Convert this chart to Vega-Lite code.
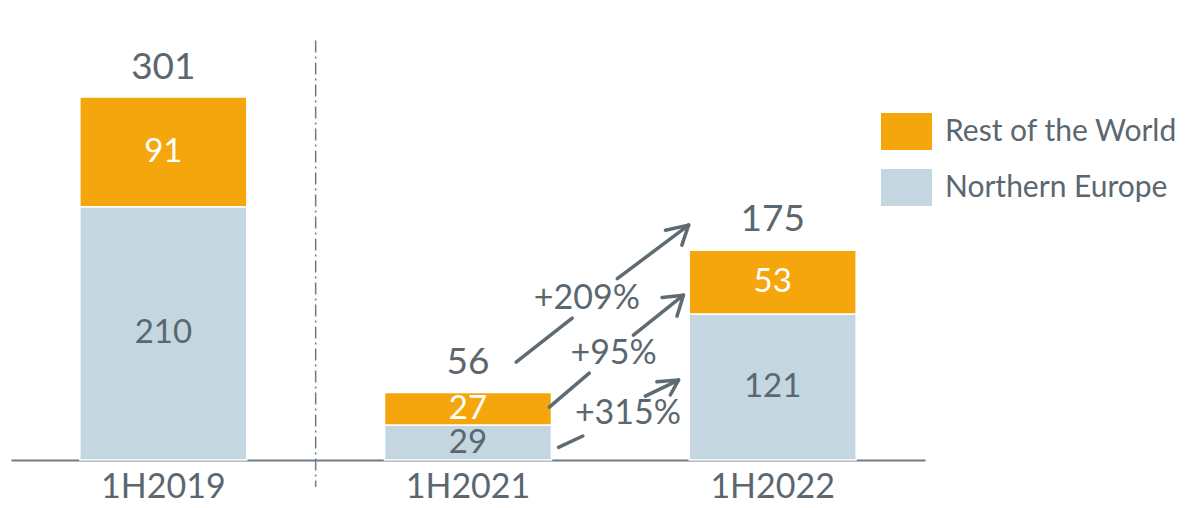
{
  "$schema": "https://vega.github.io/schema/vega-lite/v6.json",
  "width": 914,
  "height": 422,
  "autosize": {"type": "none"},
  "padding": {"left": 11, "top": 38, "right": 261, "bottom": 48},
  "background": "white",
  "config": {
    "view": {"stroke": null},
    "font": "Lato",
    "text": {"font": "Lato"}
  },
  "datasets": {
    "bars": [
      {"period": "1H2019", "region": "Northern Europe", "value": 210},
      {"period": "1H2019", "region": "Rest of the World", "value": 91},
      {"period": "1H2021", "region": "Northern Europe", "value": 29},
      {"period": "1H2021", "region": "Rest of the World", "value": 27},
      {"period": "1H2022", "region": "Northern Europe", "value": 121},
      {"period": "1H2022", "region": "Rest of the World", "value": 53}
    ],
    "totals": [
      {"period": "1H2019", "total": 301},
      {"period": "1H2021", "total": 56},
      {"period": "1H2022", "total": 175}
    ],
    "arrows": [
      {"arrow": "a1", "x": 1.158, "y": 81.2, "x2": 1.342, "y2": 117.7},
      {"arrow": "a1", "x": 1.490, "y": 150.4, "x2": 1.724, "y2": 194.8},
      {"arrow": "a1", "x": 1.724, "y": 194.8, "x2": 1.648, "y2": 190.6},
      {"arrow": "a1", "x": 1.724, "y": 194.8, "x2": 1.702, "y2": 178.2},
      {"arrow": "a2", "x": 1.267, "y": 43.9, "x2": 1.398, "y2": 72.1},
      {"arrow": "a2", "x": 1.543, "y": 103.6, "x2": 1.707, "y2": 136.7},
      {"arrow": "a2", "x": 1.707, "y": 136.7, "x2": 1.637, "y2": 134.8},
      {"arrow": "a2", "x": 1.707, "y": 136.7, "x2": 1.686, "y2": 119.3},
      {"arrow": "a3", "x": 1.297, "y": 10.5, "x2": 1.377, "y2": 19.9},
      {"arrow": "a3", "x": 1.582, "y": 53.0, "x2": 1.691, "y2": 66.3},
      {"arrow": "a3", "x": 1.691, "y": 66.3, "x2": 1.620, "y2": 64.9},
      {"arrow": "a3", "x": 1.691, "y": 66.3, "x2": 1.664, "y2": 53.9}
    ],
    "growth": [
      {"label": "+209%", "x": 1.390, "y": 133.8},
      {"label": "+95%", "x": 1.478, "y": 88.3},
      {"label": "+315%", "x": 1.525, "y": 38.1}
    ],
    "divider": [
      {"x": 0.5, "y": 348, "y2": -22.4}
    ]
  },
  "resolve": {"scale": {"x": "independent"}},
  "layer": [
    {
      "layer": [
        {
          "data": {"name": "bars"},
          "transform": [
            {"stack": "value", "groupby": ["period"], "sort": [{"field": "region", "order": "ascending"}], "as": ["v0", "v1"]}
          ],
          "mark": {"type": "bar", "stroke": "white", "strokeWidth": 1.5},
          "encoding": {
            "x": {
              "field": "period", "type": "nominal",
              "scale": {"paddingInner": 0.452, "paddingOuter": 0.226},
              "axis": {
                "title": null, "labelAngle": 0, "ticks": false,
                "domain": true, "domainColor": "#6E7A83", "domainWidth": 2,
                "labelFontSize": 34, "labelColor": "#5B6770", "labelPadding": 10,
                "labelFont": "Lato"
              }
            },
            "y": {"field": "v1", "type": "quantitative", "scale": {"domain": [0, 350]}, "axis": null},
            "y2": {"field": "v0"},
            "color": {
              "field": "region", "type": "nominal",
              "scale": {"domain": ["Rest of the World", "Northern Europe"], "range": ["#F5A60C", "#C4D6E0"]},
              "legend": {
                "title": null, "orient": "none", "legendX": 870, "legendY": 68,
                "symbolType": "M-1,-0.725H1V0.725H-1Z", "symbolSize": 2601,
                "symbolStrokeWidth": 0, "symbolOpacity": 1,
                "labelFontSize": 30, "labelColor": "#5B6770", "labelFont": "Lato",
                "labelOffset": 13, "rowPadding": 12, "padding": 0, "labelLimit": 400
              }
            }
          }
        },
        {
          "data": {"name": "bars"},
          "transform": [
            {"stack": "value", "groupby": ["period"], "sort": [{"field": "region", "order": "ascending"}], "as": ["v0", "v1"]},
            {"calculate": "(datum.v0 + datum.v1) / 2", "as": "mid"}
          ],
          "mark": {"type": "text", "fontSize": 33, "baseline": "middle", "align": "center"},
          "encoding": {
            "x": {"field": "period", "type": "nominal"},
            "y": {"field": "mid", "type": "quantitative"},
            "text": {"field": "value", "type": "quantitative"},
            "color": {"condition": {"test": "datum.region === 'Rest of the World'", "value": "white"}, "value": "#5B6770"}
          }
        },
        {
          "data": {"name": "totals"},
          "mark": {"type": "text", "fontSize": 37, "baseline": "middle", "align": "center", "dy": -29, "color": "#5B6770"},
          "encoding": {
            "x": {"field": "period", "type": "nominal"},
            "y": {"field": "total", "type": "quantitative"},
            "text": {"field": "total", "type": "quantitative"}
          }
        }
      ]
    },
    {
      "data": {"name": "divider"},
      "mark": {"type": "rule", "color": "#6E7A83", "strokeWidth": 1.5, "strokeDash": [12, 4, 2, 4]},
      "encoding": {
        "x": {"field": "x", "type": "quantitative", "scale": {"domain": [-0.5, 2.5], "nice": false, "zero": false}, "axis": null},
        "y": {"field": "y", "type": "quantitative"},
        "y2": {"field": "y2"}
      }
    },
    {
      "data": {"name": "arrows"},
      "mark": {"type": "rule", "color": "#5F6B73", "strokeWidth": 3.5, "strokeCap": "round"},
      "encoding": {
        "x": {"field": "x", "type": "quantitative", "scale": {"domain": [-0.5, 2.5], "nice": false, "zero": false}, "axis": null},
        "x2": {"field": "x2"},
        "y": {"field": "y", "type": "quantitative"},
        "y2": {"field": "y2"}
      }
    },
    {
      "data": {"name": "growth"},
      "mark": {"type": "text", "fontSize": 34, "baseline": "middle", "align": "center", "color": "#5B6770"},
      "encoding": {
        "x": {"field": "x", "type": "quantitative", "scale": {"domain": [-0.5, 2.5], "nice": false, "zero": false}, "axis": null},
        "y": {"field": "y", "type": "quantitative"},
        "text": {"field": "label"}
      }
    }
  ]
}
